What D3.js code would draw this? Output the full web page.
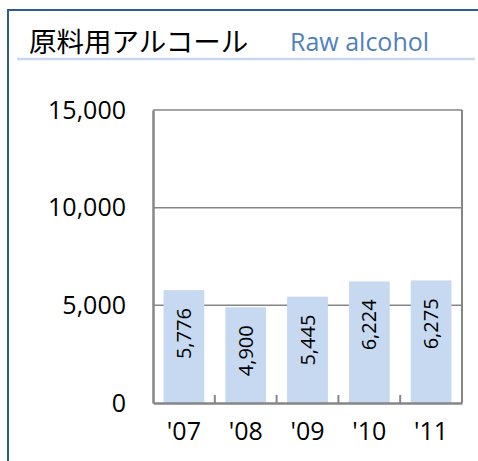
<!DOCTYPE html>
<html>
<head>
<meta charset="utf-8">
<script src="https://cdn.jsdelivr.net/npm/d3@7"></script>
<style>
  body { margin: 0; background: #fff; }
  svg { display: block; }
</style>
</head>
<body>
<svg id="chart" width="478" height="461"></svg>
<script>
// chart values
const years = ["'07", "'08", "'09", "'10", "'11"];
const volumes = [5776, 4900, 5445, 6224, 6275];
const yTicks = [0, 5000, 10000, 15000];

const svg = d3.select("#chart");
const font = "'Open Sans', 'Liberation Sans', sans-serif";

// outer frame (top + left only visible)
svg.append("path")
    .attr("d", "M8,461 V10 H478")
    .attr("fill", "none")
    .attr("stroke", "#2f5b96")
    .attr("stroke-width", 2);

// title
svg.append("text")
    .attr("x", 29).attr("y", 52)
    .style("font-family", "'Noto Sans CJK JP', sans-serif")
    .style("font-size", "27.5px")
    .attr("fill", "#000")
    .text("原料用アルコール");

svg.append("text")
    .attr("x", 290).attr("y", 51)
    .style("font-family", font)
    .style("font-size", "25px")
    .attr("fill", "#4f81bd")
    .text("Raw alcohol");

svg.append("line")
    .attr("x1", 17).attr("x2", 475)
    .attr("y1", 59).attr("y2", 59)
    .attr("stroke", "#c6d9f0")
    .attr("stroke-width", 2.5);

// plot area
const margin = { left: 153, right: 462, top: 110, bottom: 403 };

const x = d3.scaleBand()
    .domain(years)
    .range([margin.left, margin.right])
    .paddingInner(0.34)
    .paddingOuter(0.17);

const xCat = d3.scaleBand()
    .domain(years)
    .range([margin.left, margin.right]);

const y = d3.scaleLinear()
    .domain([0, 15000])
    .range([margin.bottom, margin.top]);

// gridlines
svg.append("g")
    .selectAll("line")
    .data(yTicks.filter(d => d > 0))
    .enter().append("line")
    .attr("x1", margin.left).attr("x2", margin.right)
    .attr("y1", d => y(d)).attr("y2", d => y(d))
    .attr("stroke", "#868686")
    .attr("stroke-width", 1.5);

// right border
svg.append("line")
    .attr("x1", margin.right).attr("x2", margin.right)
    .attr("y1", margin.top).attr("y2", margin.bottom)
    .attr("stroke", "#868686")
    .attr("stroke-width", 2);

// bars
svg.append("g")
    .selectAll("rect")
    .data(volumes)
    .enter().append("rect")
    .attr("x", (d, i) => x(years[i]))
    .attr("y", d => y(d))
    .attr("width", x.bandwidth())
    .attr("height", d => y(0) - y(d))
    .attr("fill", "#c6d9f0");

// bar labels (rotated, inside end)
svg.append("g")
    .selectAll("text")
    .data(volumes)
    .enter().append("text")
    .attr("transform", (d, i) =>
        `translate(${x(years[i]) + x.bandwidth() / 2 + 7},${y(d) + 18}) rotate(-90)`)
    .attr("text-anchor", "end")
    .style("font-family", font)
    .style("font-size", "20px")
    .attr("fill", "#000")
    .text(d => d3.format(",")(d));

// y axis
const yAxis = svg.append("g")
    .attr("transform", `translate(${margin.left},0)`)
    .call(d3.axisLeft(y).tickValues(yTicks).tickSize(0).tickPadding(27)
        .tickFormat(d3.format(",")));
yAxis.select(".domain").attr("stroke", "#868686").attr("stroke-width", 2.5);
yAxis.selectAll("text")
    .style("font-family", font)
    .style("font-size", "25px")
    .attr("fill", "#000");

// x axis (ticks point up into the plot)
const xAxis = svg.append("g")
    .attr("transform", `translate(0,${margin.bottom})`)
    .call(d3.axisBottom(xCat).tickSize(0).tickPadding(19));
xAxis.select(".domain").attr("stroke", "#868686").attr("stroke-width", 2.5);
xAxis.selectAll("text")
    .style("font-family", font)
    .style("font-size", "25px")
    .attr("fill", "#000");

svg.append("g")
    .selectAll("line")
    .data(years.slice(1))
    .enter().append("line")
    .attr("x1", d => xCat(d)).attr("x2", d => xCat(d))
    .attr("y1", margin.bottom).attr("y2", margin.bottom - 8)
    .attr("stroke", "#868686")
    .attr("stroke-width", 2);
</script>
</body>
</html>
